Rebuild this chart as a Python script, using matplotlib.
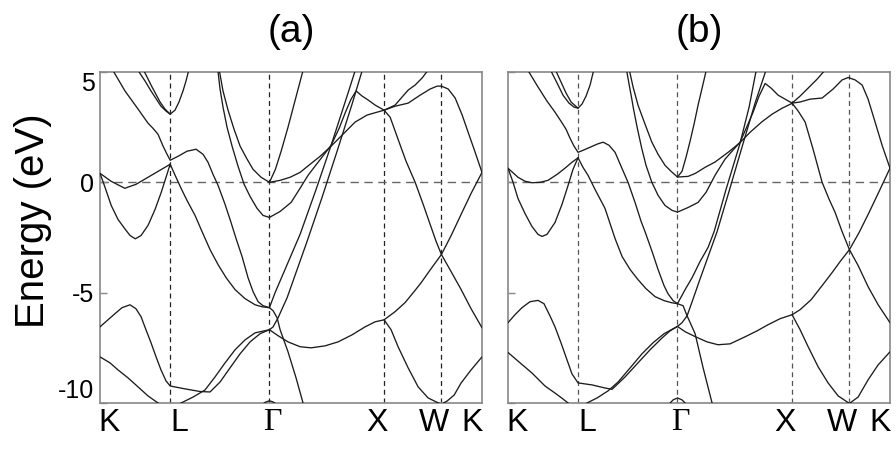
import matplotlib
matplotlib.use("Agg")
import matplotlib.pyplot as plt
from matplotlib import transforms

# ---------------- high-symmetry path ----------------
kpoint_labels = ["K", "L", "Γ", "X", "W", "K"]
kpoint_pos = [0.0, 0.612, 1.478, 2.478, 2.978, 3.332]
y_ticks = [5, 0, -5, -10]
panel_titles = ["(a)", "(b)"]

# ---------------- panel (a) bands: k, E(eV) ----------------
a01_k = [0, 0.096, 0.216, 0.314, 0.419, 0.524, 0.612]
a01_e = [0.41, 0.05, -0.27, -0.09, 0.23, 0.55, 0.82]
a02_k = [0, 0.044, 0.098, 0.157, 0.216, 0.262, 0.308, 0.358, 0.419, 0.480, 0.535, 0.576, 0.612]
a02_e = [0.41, -0.23, -1.05, -1.68, -2.1, -2.41, -2.56, -2.41, -1.95, -1.23, -0.44, 0.23, 0.82]
a03_k = [0.105, 0.218, 0.332, 0.419, 0.462, 0.506, 0.550, 0.585, 0.612, 0.681, 0.759, 0.838, 0.899,
         0.942, 0.986, 1.030, 1.091, 1.143, 1.187, 1.239, 1.291, 1.335, 1.379, 1.422, 1.478]
a03_e = [5.14, 4.14, 3.32, 2.68, 2.45, 2.18, 1.64, 1.27, 1.0, 1.18, 1.41, 1.5, 1.27,
         0.91, 0.36, -0.14, -1.0, -1.82, -2.55, -3.36, -4.32, -4.95, -5.41, -5.59, -5.68]
a04_k = [0.323, 0.393, 0.445, 0.532, 0.576, 0.612, 0.654, 0.689, 0.724, 0.750, 0.777]
a04_e = [5.14, 4.59, 4.14, 3.45, 3.23, 3.09, 3.27, 3.64, 4.14, 4.59, 5.14]
a05_k = [0.375, 0.454, 0.524, 0.567, 0.612]
a05_e = [5.14, 4.32, 3.64, 3.32, 3.09]
a06_k = [0.612, 0.663, 0.707, 0.759, 0.829, 0.890, 0.960, 1.030, 1.100, 1.178, 1.265, 1.353, 1.414, 1.478]
a06_e = [0.82, 0.23, -0.27, -0.82, -1.5, -2.23, -3.05, -3.73, -4.32, -4.86, -5.27, -5.55, -5.64, -5.68]
a07_k = [0, 0.061, 0.131, 0.192, 0.262, 0.314, 0.358, 0.401, 0.445, 0.489, 0.532, 0.576, 0.612,
         0.742, 0.873, 0.960, 1.047, 1.134, 1.222, 1.309, 1.396, 1.478]
a07_e = [-6.55, -6.27, -5.95, -5.68, -5.55, -5.73, -6.09, -6.68, -7.27, -7.91, -8.5, -9.0, -9.23,
         -9.36, -9.48, -9.5, -9.05, -8.41, -7.77, -7.23, -6.86, -6.68]
a08_k = [0.628, 0.707, 0.812, 0.916, 1.003, 1.091, 1.178, 1.265, 1.353, 1.478]
a08_e = [-10.3, -10.0, -9.73, -9.41, -8.82, -8.18, -7.59, -7.14, -6.82, -6.68]
a09_k = [0, 0.087, 0.157, 0.244, 0.332, 0.419, 0.506, 0.567]
a09_e = [-7.91, -8.18, -8.5, -8.86, -9.27, -9.68, -10.0, -10.23]
a10_k = [1.418, 1.448, 1.478, 1.508, 1.538]
a10_e = [-10.05, -9.95, -9.9, -9.95, -10.05]
a11_k = [1.478, 1.405, 1.335, 1.283, 1.222, 1.169, 1.117, 1.073, 1.043, 1.034]
a11_e = [0.0, 0.23, 0.59, 1.05, 1.64, 2.41, 3.27, 4.14, 5.0, 5.32]
a12_k = [1.478, 1.422, 1.370, 1.309, 1.257, 1.204, 1.152, 1.108, 1.073, 1.047, 1.030, 1.025]
a12_e = [-1.59, -1.5, -1.18, -0.64, -0.09, 0.73, 1.64, 2.5, 3.41, 4.23, 5.0, 5.32]
a13_k = [1.478, 1.53, 1.58, 1.64, 1.70, 1.77, 1.79]
a13_e = [0.0, 0.59, 1.41, 2.5, 3.68, 5.05, 5.4]
a14_k = [1.478, 1.571, 1.658, 1.745, 1.833, 1.920, 2.016, 2.112, 2.225, 2.330, 2.478]
a14_e = [0.0, 0.09, 0.23, 0.45, 0.82, 1.18, 1.64, 2.14, 2.73, 3.05, 3.27]
a15_k = [1.478, 1.571, 1.667, 1.745, 1.815, 1.902, 1.963, 2.016, 2.086, 2.138, 2.190, 2.234,
         2.286, 2.339, 2.400, 2.478]
a15_e = [-1.59, -1.32, -0.91, -0.27, 0.32, 0.91, 1.32, 1.68, 2.45, 3.14, 3.77, 4.14,
         3.91, 3.73, 3.5, 3.27]
a16_k = [1.478, 1.527, 1.632, 1.745, 1.885, 2.016, 2.155, 2.225, 2.243]
a16_e = [-5.68, -5.0, -3.73, -2.36, -0.32, 1.68, 3.91, 5.05, 5.3]
a17_k = [1.478, 1.510, 1.553, 1.632, 1.806, 1.937, 2.068, 2.199, 2.286, 2.304]
a17_e = [-6.68, -6.55, -6.14, -5.23, -2.68, -0.68, 1.41, 3.55, 5.05, 5.3]
a18_k = [1.478, 1.51, 1.545, 1.571, 1.640, 1.710, 1.771, 1.789]
a18_e = [-5.68, -5.82, -6.14, -6.68, -7.68, -8.86, -10.0, -10.3]
a19_k = [1.478, 1.553, 1.640, 1.745, 1.841, 1.963, 2.077, 2.199, 2.312, 2.400, 2.478, 2.574,
         2.661, 2.740, 2.801, 2.888, 2.978, 3.063, 3.150, 3.237, 3.332]
a19_e = [-6.68, -6.95, -7.23, -7.45, -7.5, -7.41, -7.23, -6.91, -6.55, -6.32, -6.23, -5.86,
         -5.45, -4.95, -4.55, -3.91, -3.27, -2.41, -1.45, -0.5, 0.45]
a20_k = [2.478, 2.531, 2.600, 2.670, 2.749, 2.819, 2.880, 2.932, 2.978, 3.063, 3.150, 3.237, 3.332]
a20_e = [3.27, 2.95, 1.95, 0.95, 0.0, -1.0, -1.91, -2.68, -3.27, -4.05, -4.86, -5.73, -6.59]
a21_k = [2.478, 2.539, 2.600, 2.688, 2.775, 2.862, 2.932, 2.978, 3.028, 3.089, 3.150, 3.237, 3.332]
a21_e = [-6.23, -6.68, -7.45, -8.41, -9.27, -9.77, -9.95, -10.05, -9.91, -9.64, -9.09, -8.5, -7.91]
a22_k = [2.478, 2.574, 2.627, 2.688, 2.749, 2.810, 2.862, 2.888]
a22_e = [3.27, 3.5, 3.82, 4.18, 4.41, 4.73, 5.09, 5.27]
a23_k = [2.478, 2.574, 2.688, 2.792, 2.880, 2.941, 2.978, 3.037, 3.098, 3.159, 3.211, 3.263, 3.332]
a23_e = [3.27, 3.45, 3.59, 3.95, 4.23, 4.36, 4.36, 4.23, 3.82, 3.05, 2.27, 1.5, 0.45]

# ---------------- panel (b) bands: k, E(eV) ----------------
b01_k = [0, 0.087, 0.148, 0.209, 0.279, 0.349, 0.428, 0.497, 0.558, 0.611]
b01_e = [0.64, 0.23, 0.05, -0.02, 0.0, 0.09, 0.36, 0.64, 0.91, 1.11]
b02_k = [0, 0.044, 0.087, 0.148, 0.209, 0.262, 0.297, 0.340, 0.410, 0.471, 0.524, 0.567, 0.611]
b02_e = [0.64, 0.0, -0.73, -1.41, -2.0, -2.36, -2.45, -2.36, -1.82, -1.0, -0.14, 0.59, 1.11]
b03_k = [0.166, 0.262, 0.340, 0.410, 0.462, 0.506, 0.541, 0.576, 0.611, 0.654, 0.716, 0.777, 0.829,
         0.881, 0.934, 0.986, 1.047, 1.108, 1.161, 1.195, 1.257, 1.309, 1.361, 1.396, 1.440, 1.478]
b03_e = [5.14, 4.32, 3.68, 3.18, 2.77, 2.41, 2.0, 1.64, 1.36, 1.45, 1.59, 1.73, 1.82,
         1.68, 1.36, 0.73, 0.0, -0.91, -1.77, -2.23, -3.14, -3.95, -4.68, -5.05, -5.36, -5.5]
b04_k = [0.366, 0.428, 0.480, 0.532, 0.576, 0.611, 0.646, 0.681, 0.716, 0.750]
b04_e = [5.14, 4.5, 3.95, 3.59, 3.41, 3.36, 3.55, 3.91, 4.41, 5.14]
b05_k = [0.410, 0.462, 0.506, 0.550, 0.611]
b05_e = [5.14, 4.55, 4.05, 3.64, 3.36]
b06_k = [0.611, 0.654, 0.698, 0.759, 0.846, 0.934, 0.995, 1.065, 1.134, 1.204, 1.283, 1.361, 1.422, 1.478]
b06_e = [1.11, 0.68, 0.32, -0.32, -1.18, -2.55, -3.36, -3.95, -4.41, -4.82, -5.18, -5.36, -5.45, -5.5]
b07_k = [0, 0.061, 0.122, 0.192, 0.262, 0.314, 0.366, 0.410, 0.462, 0.515, 0.558, 0.611,
         0.733, 0.846, 0.908, 1.021, 1.134, 1.239, 1.344, 1.414, 1.478]
b07_e = [-6.36, -6.0, -5.68, -5.41, -5.35, -5.5, -6.05, -6.55, -7.27, -8.05, -8.68, -9.09,
         -9.18, -9.32, -9.38, -8.82, -8.18, -7.59, -7.05, -6.73, -6.53]
b08_k = [0.628, 0.689, 0.777, 0.873, 0.960, 1.065, 1.169, 1.265, 1.361, 1.478]
b08_e = [-10.18, -10.0, -9.77, -9.45, -9.05, -8.41, -7.77, -7.27, -6.86, -6.53]
b09_k = [0, 0.105, 0.209, 0.323, 0.410, 0.480, 0.524, 0.585]
b09_e = [-7.71, -8.18, -8.64, -9.23, -9.55, -9.82, -10.0, -10.23]
b10_k = [1.396, 1.414, 1.440, 1.478, 1.518, 1.545, 1.562]
b10_e = [-10.14, -10.0, -9.86, -9.77, -9.86, -10.0, -10.14]
b11_k = [1.478, 1.422, 1.370, 1.309, 1.254, 1.195, 1.134, 1.091, 1.060, 1.052]
b11_e = [0.24, 0.5, 0.77, 1.27, 1.83, 2.64, 3.5, 4.32, 5.05, 5.36]
b12_k = [1.478, 1.431, 1.370, 1.309, 1.254, 1.204, 1.167, 1.126, 1.095, 1.079, 1.056, 1.034, 1.030]
b12_e = [-1.35, -1.27, -1.05, -0.59, 0.01, 0.77, 1.53, 2.5, 3.32, 3.8, 4.45, 5.09, 5.41]
b13_k = [1.478, 1.518, 1.553, 1.588, 1.623, 1.658, 1.693, 1.728, 1.745]
b13_e = [0.24, 0.5, 1.14, 1.86, 2.64, 3.5, 4.27, 5.05, 5.41]
b14_k = [1.478, 1.571, 1.632, 1.719, 1.806, 1.920, 2.024, 2.112, 2.214, 2.304, 2.391, 2.478]
b14_e = [0.24, 0.27, 0.4, 0.68, 0.92, 1.36, 1.8, 2.27, 2.74, 3.09, 3.36, 3.58]
b15_k = [1.478, 1.571, 1.658, 1.728, 1.806, 1.893, 2.024, 2.086, 2.138, 2.190, 2.243, 2.295,
         2.356, 2.417, 2.478]
b15_e = [-1.35, -1.14, -0.91, -0.45, 0.32, 1.05, 1.82, 2.55, 3.18, 3.91, 4.48, 4.27,
         3.95, 3.77, 3.59]
b16_k = [1.478, 1.545, 1.606, 1.675, 1.745, 1.798, 1.902, 2.024, 2.103, 2.164, 2.181]
b16_e = [-5.5, -4.86, -4.32, -3.59, -2.95, -2.23, -0.32, 1.77, 3.41, 5.05, 5.41]
b17_k = [1.478, 1.518, 1.562, 1.606, 1.667, 1.736, 1.824, 1.928, 2.051, 2.155, 2.251, 2.269]
b17_e = [-6.53, -6.36, -6.05, -5.41, -4.5, -3.5, -2.23, -0.41, 1.77, 3.59, 5.09, 5.41]
b18_k = [1.478, 1.527, 1.562, 1.597, 1.632, 1.702, 1.780, 1.798]
b18_e = [-5.5, -5.59, -6.05, -6.45, -6.86, -8.41, -10.0, -10.32]
b19_k = [1.478, 1.545, 1.632, 1.736, 1.832, 1.937, 2.068, 2.173, 2.269, 2.373, 2.478, 2.548,
         2.644, 2.740, 2.827, 2.897, 2.978, 3.063, 3.150, 3.237, 3.332]
b19_e = [-6.53, -6.77, -6.99, -7.23, -7.36, -7.32, -7.0, -6.73, -6.45, -6.18, -6.0, -5.77,
         -5.32, -4.68, -4.09, -3.59, -3.05, -2.27, -1.36, -0.41, 0.64]
b20_k = [2.478, 2.531, 2.592, 2.661, 2.740, 2.801, 2.853, 2.914, 2.978, 3.054, 3.141, 3.229, 3.332]
b20_e = [3.59, 3.23, 2.73, 1.5, 0.0, -0.77, -1.36, -2.23, -3.05, -3.77, -4.73, -5.55, -6.36]
b21_k = [2.478, 2.548, 2.618, 2.705, 2.792, 2.880, 2.978, 3.054, 3.141, 3.229, 3.332]
b21_e = [-6.0, -6.68, -7.45, -8.36, -9.09, -9.68, -10.02, -9.73, -8.95, -8.27, -7.68]
b22_k = [2.478, 2.548, 2.618, 2.697, 2.766, 2.792]
b22_e = [3.59, 3.91, 4.27, 4.68, 5.09, 5.27]
b23_k = [2.478, 2.548, 2.635, 2.740, 2.836, 2.914, 2.967, 3.028, 3.089, 3.141, 3.202, 3.263, 3.332]
b23_e = [3.59, 3.64, 3.77, 3.82, 4.23, 4.64, 4.75, 4.64, 4.41, 3.77, 2.73, 1.68, 0.64]

bands_a = [(a01_k, a01_e), (a02_k, a02_e), (a03_k, a03_e), (a04_k, a04_e), (a05_k, a05_e),
           (a06_k, a06_e), (a07_k, a07_e), (a08_k, a08_e), (a09_k, a09_e), (a10_k, a10_e),
           (a11_k, a11_e), (a12_k, a12_e), (a13_k, a13_e), (a14_k, a14_e), (a15_k, a15_e),
           (a16_k, a16_e), (a17_k, a17_e), (a18_k, a18_e), (a19_k, a19_e), (a20_k, a20_e),
           (a21_k, a21_e), (a22_k, a22_e), (a23_k, a23_e)]
bands_b = [(b01_k, b01_e), (b02_k, b02_e), (b03_k, b03_e), (b04_k, b04_e), (b05_k, b05_e),
           (b06_k, b06_e), (b07_k, b07_e), (b08_k, b08_e), (b09_k, b09_e), (b10_k, b10_e),
           (b11_k, b11_e), (b12_k, b12_e), (b13_k, b13_e), (b14_k, b14_e), (b15_k, b15_e),
           (b16_k, b16_e), (b17_k, b17_e), (b18_k, b18_e), (b19_k, b19_e), (b20_k, b20_e),
           (b21_k, b21_e), (b22_k, b22_e), (b23_k, b23_e)]

# ---------------- figure ----------------
plt.rcParams['font.family'] = ['Liberation Sans', 'DejaVu Sans']
plt.rcParams['axes.unicode_minus'] = False
fig = plt.figure(figsize=(8.96, 4.5), dpi=100)

W, H = 896.0, 450.0
ax_a = fig.add_axes([100 / W, 47 / H, 382 / W, 331 / H])
ax_b = fig.add_axes([508 / W, 47 / H, 382 / W, 331 / H])

label_dx = [-2, 9, 3, -7, -7, 1]   # pixel nudges of the k-point labels
label_ha = ['left', 'center', 'center', 'center', 'center', 'right']

for ax, bands, vcol, title in [(ax_a, bands_a, '#222222', panel_titles[0]),
                               (ax_b, bands_b, '#555555', panel_titles[1])]:
    for kk, ee in bands:
        ax.plot(kk, ee, color='#1c1c1c', lw=0.95, solid_capstyle='round', zorder=3)
    for kp in kpoint_pos[1:-1]:
        ax.axvline(kp, color=vcol, lw=0.9, ls=(0, (4, 3)), zorder=1)
    ax.axhline(0, color='#666666', lw=1.0, ls=(0, (6, 4)), zorder=1)
    ax.set_xlim(kpoint_pos[0], kpoint_pos[-1])
    ax.set_ylim(-10, 5)
    for s in ax.spines.values():
        s.set_color('#888888')
        s.set_linewidth(1.2)
    ax.set_xticks([])
    ax.set_yticks(y_ticks)
    ax.tick_params(axis='y', direction='in', length=5, width=1.0, color='#888888',
                   labelsize=18, pad=4)
    trans = ax.get_xaxis_transform()
    for lab, kp, dx, ha in zip(kpoint_labels, kpoint_pos, label_dx, label_ha):
        t = transforms.offset_copy(trans, fig=fig, x=dx, y=0, units='dots')
        fam = ['Liberation Serif', 'DejaVu Serif'] if lab == "Γ" else ['Liberation Sans', 'DejaVu Sans']
        ax.text(kp, -0.015, lab, transform=t, ha=ha, va='top', fontsize=23, family=fam)
    pos = ax.get_position()
    fig.text(pos.x0 + pos.width / 2, 1 - 32 / H, title, ha='center', va='center', fontsize=28)

ax_b.set_yticklabels([])
ylabs = ax_a.get_yticklabels()
ylabs[0].set_va('top')
ylabs[-1].set_va('bottom')
fig.text(33 / W, 1 - 221 / H, "Energy (eV)", rotation=90, ha='center', va='center', fontsize=29)

fig.savefig("out.png", dpi=100)
